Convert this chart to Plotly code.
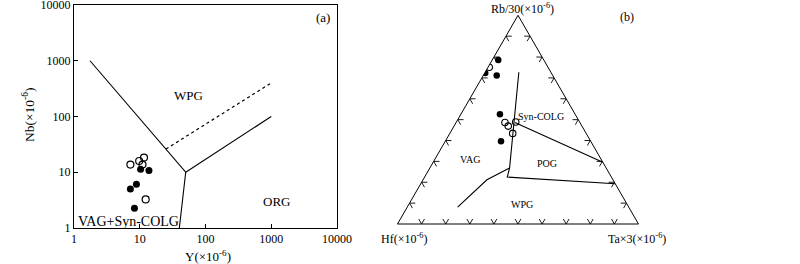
import plotly.graph_objects as go

W, H = 800, 264

# ---------------- Panel (a): Nb vs Y (log-log) ----------------
y_open = [7.2, 9.8, 11.6, 11.0, 12.3]
nb_open = [13.7, 15.9, 18.3, 13.7, 3.25]
y_filled = [10.3, 13.8, 8.9, 7.2, 8.3]
nb_filled = [11.3, 10.7, 6.1, 5.0, 2.25]

# field boundaries (solid) and dotted ORG/WPG line
bound_y = [1.75, 50, 40, None, 50, 1000]
bound_nb = [1000, 10, 1, None, 10, 100]
dot_y = [25, 1000]
dot_nb = [26, 400]

x_ticks = [1, 10, 100, 1000, 10000]
y_ticks = [1, 10, 100, 1000, 10000]

# ---------------- Panel (b): Rb/30 - Hf - Ta*3 ternary ----------------
a_open = [0.751, 0.486, 0.469, 0.489, 0.434]
b_open = [0.244, 0.311, 0.306, 0.265, 0.305]
c_open = [0.005, 0.203, 0.225, 0.246, 0.261]
a_filled = [0.786, 0.724, 0.711, 0.526, 0.397]
b_filled = [0.189, 0.274, 0.233, 0.312, 0.372]
c_filled = [0.025, 0.002, 0.056, 0.162, 0.231]

# boundary polylines (a = Rb/30, b = Hf, c = Ta*3)
tb_a = [0.727, 0.268, 0.225, 0.193, None, 0.081, 0.212, 0.268, None, 0.486, 0.296]
tb_b = [0.133, 0.401, 0.432, 0.000, None, 0.710, 0.523, 0.401, None, 0.270, 0.000]
tb_c = [0.140, 0.331, 0.343, 0.807, None, 0.209, 0.265, 0.331, None, 0.244, 0.704]

tick_fracs = [0.1, 0.2, 0.3, 0.4, 0.5, 0.6, 0.7, 0.8, 0.9]
arm = 0.024

FONT = "Liberation Serif"

fig = go.Figure()

# panel (a) traces
fig.add_trace(go.Scatter(x=bound_y, y=bound_nb, mode="lines",
                         line=dict(color="black", width=1.1), connectgaps=False,
                         showlegend=False, hoverinfo="skip"))
fig.add_trace(go.Scatter(x=dot_y, y=dot_nb, mode="lines",
                         line=dict(color="black", width=1.2, dash="dot"),
                         showlegend=False, hoverinfo="skip"))
fig.add_trace(go.Scatter(x=y_open, y=nb_open, mode="markers",
                         marker=dict(symbol="circle-open", size=7, color="black",
                                     line=dict(width=1.2, color="black")),
                         showlegend=False))
fig.add_trace(go.Scatter(x=y_filled, y=nb_filled, mode="markers",
                         marker=dict(symbol="circle", size=7, color="black"),
                         showlegend=False))

# ternary chevron tick marks built from the tick fractions
ca, cb, cc = [], [], []
for t in tick_fracs:
    # left edge (c = 0): apex at a=t
    ca += [t, t, t - arm, None]
    cb += [1 - t - arm, 1 - t, 1 - t, None]
    cc += [arm, 0, arm, None]
    # right edge (b = 0)
    ca += [t, t, t - arm, None]
    cb += [arm, 0, arm, None]
    cc += [1 - t - arm, 1 - t, 1 - t, None]
    # bottom edge (a = 0)
    ca += [arm, 0, arm, None]
    cb += [1 - t, 1 - t, 1 - t - arm, None]
    cc += [t - arm, t, t, None]

fig.add_trace(go.Scatterternary(a=ca, b=cb, c=cc, mode="lines", subplot="ternary",
                                line=dict(color="black", width=0.9), connectgaps=False,
                                showlegend=False, hoverinfo="skip"))
fig.add_trace(go.Scatterternary(a=tb_a, b=tb_b, c=tb_c, mode="lines", subplot="ternary",
                                line=dict(color="black", width=1.1), connectgaps=False,
                                showlegend=False, hoverinfo="skip"))
fig.add_trace(go.Scatterternary(a=a_open, b=b_open, c=c_open, mode="markers", subplot="ternary",
                                marker=dict(symbol="circle-open", size=6.5, color="black",
                                            line=dict(width=1.1, color="black")),
                                showlegend=False))
fig.add_trace(go.Scatterternary(a=a_filled, b=b_filled, c=c_filled, mode="markers",
                                subplot="ternary",
                                marker=dict(symbol="circle", size=6.5, color="black"),
                                showlegend=False))

axis_common = dict(showgrid=False, zeroline=False, showline=True, linecolor="black",
                   linewidth=1, mirror=True, ticks="inside", ticklen=4, tickcolor="black",
                   automargin=False, ticklabeloverflow="allow",
                   tickfont=dict(family=FONT, size=12, color="black"))

tern_axis = dict(showticklabels=False, ticks="", showgrid=False, showline=True,
                 linecolor="black", linewidth=1, min=0, title=dict(text=""))

def px(x, y):
    return x / W, 1 - y / H

annots = []
def add_text(text, x, y, size=13, angle=0):
    xx, yy = px(x, y)
    annots.append(dict(text=text, x=xx, y=yy, xref="paper", yref="paper",
                       showarrow=False, xanchor="center", yanchor="middle",
                       textangle=angle, font=dict(family=FONT, size=size, color="black")))

# panel (a) texts
add_text("(a)", 323, 18, 13)
add_text("WPG", 188, 95, 13)
add_text("ORG", 276, 201, 13)
add_text("VAG+Syn-COLG", 128, 221, 14)
add_text("Nb(×10<sup>-6</sup>)", 29, 115, 13.5, -90)
add_text("Y(×10<sup>-6</sup>)", 208, 256, 13)
# panel (b) texts
add_text("Rb/30(×10<sup>-6</sup>)", 522, 9, 12)
add_text("(b)", 627, 17, 12)
add_text("Hf(×10<sup>-6</sup>)", 404, 238, 12)
add_text("Ta×3(×10<sup>-6</sup>)", 637, 238, 12)
add_text("Syn-COLG", 541, 117, 10)
add_text("VAG", 470, 159, 10)
add_text("POG", 547, 163, 10)
add_text("WPG", 522, 204, 10)

fig.update_layout(
    width=W, height=H,
    margin=dict(l=0, r=0, t=0, b=0, autoexpand=False),
    paper_bgcolor="white", plot_bgcolor="white",
    showlegend=False,
    font=dict(family=FONT, color="black"),
    xaxis=dict(type="log", range=[-0.0002, 4.0002], domain=[74 / W, 337 / W],
               tickvals=x_ticks, ticktext=[str(v) for v in x_ticks], **axis_common),
    yaxis=dict(type="log", range=[-0.0002, 4.0002], domain=[1 - 228 / H, 1 - 5 / H],
               tickvals=y_ticks, ticktext=[str(v) for v in y_ticks], **axis_common),
    ternary=dict(domain=dict(x=[397.5 / W, 638.5 / W], y=[1 - 224 / H, 1 - 15.3 / H]),
                 sum=1, bgcolor="white",
                 aaxis=tern_axis, baxis=tern_axis, caxis=tern_axis),
    annotations=annots,
)

fig.write_html("out.html", config={"displayModeBar": False},
               post_script="document.body.style.margin='0';document.body.style.overflow='hidden';")
